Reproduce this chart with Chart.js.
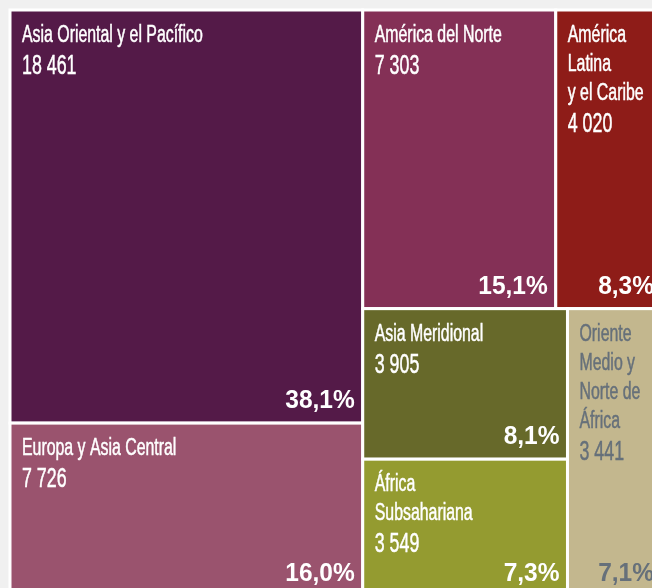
<!DOCTYPE html>
<html>
<head>
<meta charset="utf-8">
<script src="https://cdn.jsdelivr.net/npm/chart.js@4"></script>
<style>
  html, body { margin: 0; padding: 0; background: #f0f0f0; overflow: hidden; }
  #wrap { position: absolute; left: 0; top: 0; width: 672px; height: 606px; }
</style>
</head>
<body>
<div id="wrap"><canvas id="myChart" width="672" height="606"></canvas></div>
<script>
// regions (label lines) and their values
const labels = [
    ['Asia Oriental y el Pacífico'],
    ['Europa y Asia Central'],
    ['América del Norte'],
    ['América', 'Latina', 'y el Caribe'],
    ['Asia Meridional'],
    ['África', 'Subsahariana'],
    ['Oriente', 'Medio y', 'Norte de', 'África']
];
const values = [18461, 7726, 7303, 4020, 3905, 3549, 3441];
// how the tiles are grouped into strips
const strips = [[0, 1], [2, 3], [4, 5], [6]];

const colors = ['#541a48', '#9a536e', '#843056', '#8e1c18', '#67692a', '#949b30', '#c3b78e'];
const textColors = ['#fff', '#fff', '#fff', '#fff', '#fff', '#fff', '#66707a'];

const total = values.reduce((a, b) => a + b, 0);

function fmtNum(v) {
    return String(v).replace(/\B(?=(\d{3})+(?!\d))/g, ' ');
}
function fmtPct(v) {
    return (v / total * 100).toFixed(1).replace('.', ',') + '%';
}

// strip layout in value space (0..1 on both axes), aspect = px width / px height
function layout(aspect) {
    let r = { x: 0, y: 0, w: 1, h: 1 };
    let left = total;
    const tiles = [];
    strips.forEach(strip => {
        const s = strip.reduce((a, i) => a + values[i], 0);
        const f = s / left;
        if (r.w * aspect >= r.h) {
            const w = r.w * f;
            let y = r.y;
            strip.forEach(i => {
                const h = r.h * values[i] / s;
                tiles[i] = { x: r.x, y: y, w: w, h: h };
                y += h;
            });
            r = { x: r.x + w, y: r.y, w: r.w - w, h: r.h };
        } else {
            const h = r.h * f;
            let x = r.x;
            strip.forEach(i => {
                const w = r.w * values[i] / s;
                tiles[i] = { x: x, y: r.y, w: w, h: h };
                x += w;
            });
            r = { x: r.x, y: r.y + h, w: r.w, h: r.h - h };
        }
        left -= s;
    });
    return tiles;
}

function drawText(ctx, str, x, y, font, sx, align, weight) {
    ctx.save();
    ctx.font = font;
    ctx.translate(x, y);
    ctx.scale(sx, 1);
    ctx.textAlign = align;
    ctx.textBaseline = 'alphabetic';
    ctx.fillText(str, 0, 0);
    if (weight) {
        ctx.strokeStyle = ctx.fillStyle;
        ctx.lineWidth = weight;
        ctx.strokeText(str, 0, 0);
    }
    ctx.restore();
}

const treemapPlugin = {
    id: 'treemap',
    afterDatasetsDraw(chart) {
        const ctx = chart.ctx;
        const xs = chart.scales.x, ys = chart.scales.y;
        const area = chart.chartArea;
        const tiles = layout((area.right - area.left) / (area.bottom - area.top));
        tiles.forEach((t, i) => {
            const x0 = xs.getPixelForValue(t.x), x1 = xs.getPixelForValue(t.x + t.w);
            const y0 = ys.getPixelForValue(t.y), y1 = ys.getPixelForValue(t.y + t.h);
            ctx.save();
            ctx.fillStyle = colors[i];
            ctx.fillRect(x0, y0, x1 - x0, y1 - y0);
            ctx.strokeStyle = '#ffffff';
            ctx.lineWidth = 3;
            ctx.strokeRect(x0, y0, x1 - x0, y1 - y0);

            ctx.fillStyle = textColors[i];
            let y = y0 + 32;
            labels[i].forEach((line, k) => {
                if (k > 0) y += 29;
                drawText(ctx, line, x0 + 12, y, '23px "Liberation Sans"', 0.69, 'left', 0.5);
            });
            drawText(ctx, fmtNum(values[i]), x0 + 12, y + 32, '27px "Liberation Sans"', 0.66, 'left', 0.5);
            drawText(ctx, fmtPct(values[i]), x1 - 8, y1 - 15, 'bold 25px "Liberation Sans"', 0.98, 'right');
            ctx.restore();
        });
    }
};

const ctx = document.getElementById('myChart').getContext('2d');
const myChart = new Chart(ctx, {
    type: 'scatter',
    data: {
        datasets: [{ data: [] }]
    },
    options: {
        responsive: false,
        animation: false,
        layout: {
            padding: { left: 10, top: 10, right: 10, bottom: 10 }
        },
        plugins: {
            legend: { display: false },
            tooltip: { enabled: false }
        },
        scales: {
            x: { type: 'linear', min: 0, max: 1, display: false },
            y: { type: 'linear', min: 0, max: 1, reverse: true, display: false }
        }
    },
    plugins: [treemapPlugin]
});
</script>
</body>
</html>
